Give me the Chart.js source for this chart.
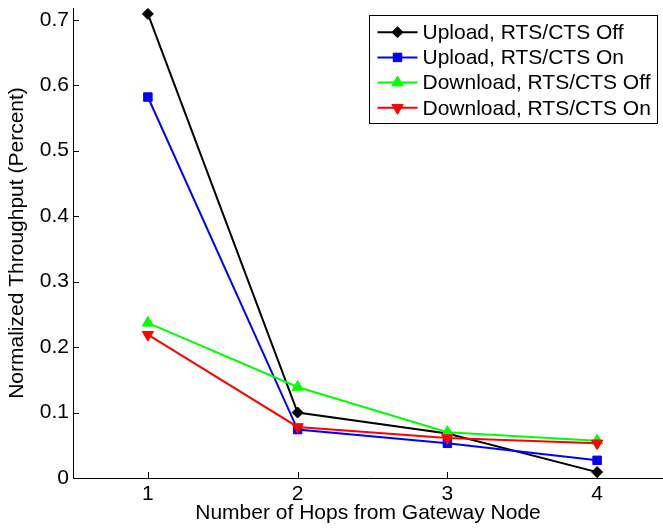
<!DOCTYPE html>
<html>
<head>
<meta charset="utf-8">
<script src="https://cdn.jsdelivr.net/npm/chart.js@4.4.0/dist/chart.umd.min.js"></script>
<style>
  html, body { margin: 0; padding: 0; background: #fff; }
  canvas { display: block; }
</style>
</head>
<body>
<canvas id="c" width="663" height="532"></canvas>
<script>
// Hop counts and normalized throughput per configuration
const hops = [1, 2, 3, 4];
const uploadOff = [0.709, 0.100, 0.068, 0.009];
const uploadOn = [0.582, 0.074, 0.053, 0.027];
const downloadOff = [0.237, 0.139, 0.070, 0.057];
const downloadOn = [0.219, 0.078, 0.061, 0.053];
const seriesNames = ['Upload, RTS/CTS Off', 'Upload, RTS/CTS On', 'Download, RTS/CTS Off', 'Download, RTS/CTS On'];
const yTicks = [0, 0.1, 0.2, 0.3, 0.4, 0.5, 0.6, 0.7];
const xTitle = 'Number of Hops from Gateway Node';
const yTitle = 'Normalized Throughput (Percent)';

const FONT = "'Liberation Sans', Arial, Helvetica, sans-serif";
const FS = 21;

function toPoints(values) {
  return hops.map((h, i) => ({ x: h, y: values[i] }));
}

function series(label, values, color, style, radius, rotation, order) {
  return {
    label: label,
    data: toPoints(values),
    borderColor: color,
    backgroundColor: color,
    pointBackgroundColor: color,
    pointBorderColor: color,
    borderWidth: 2,
    pointStyle: style,
    pointRadius: radius,
    pointRotation: rotation,
    pointBorderWidth: 1,
    tension: 0,
    clip: false,
    order: order
  };
}

// Tick marks pointing into the plot area, as in classic engineering plots
const innerTicks = {
  id: 'innerTicks',
  afterDatasetsDraw(chart) {
    const { ctx, chartArea, scales } = chart;
    ctx.save();
    ctx.strokeStyle = '#000';
    ctx.lineWidth = 1;
    ctx.beginPath();
    scales.x.ticks.forEach(t => {
      const px = Math.round(scales.x.getPixelForValue(t.value)) + 0.5;
      ctx.moveTo(px, chartArea.bottom);
      ctx.lineTo(px, chartArea.bottom - 6);
    });
    scales.y.ticks.forEach(t => {
      const py = Math.round(scales.y.getPixelForValue(t.value)) + 0.5;
      ctx.moveTo(chartArea.left, py);
      ctx.lineTo(chartArea.left + 6, py);
    });
    ctx.stroke();
    ctx.restore();
  }
};

// Boxed legend with a line sample and marker per series
const boxLegend = {
  id: 'boxLegend',
  afterDraw(chart) {
    const { ctx, chartArea } = chart;
    const right = chartArea.right - 5.5;
    const left = right - 288;
    const top = chartArea.top + 7.5;
    const rowH = 25.2;
    const bottom = top + 108;
    ctx.save();
    ctx.fillStyle = '#fff';
    ctx.fillRect(left, top, right - left, bottom - top);
    ctx.strokeStyle = '#000';
    ctx.lineWidth = 1;
    ctx.strokeRect(left, top, right - left, bottom - top);
    ctx.font = FS + 'px ' + FONT;
    ctx.textBaseline = 'middle';
    ctx.textAlign = 'left';
    chart.data.datasets.forEach((ds, i) => {
      const y = top + 16.7 + i * rowH;
      ctx.strokeStyle = ds.borderColor;
      ctx.lineWidth = 2;
      ctx.beginPath();
      ctx.moveTo(left + 8, y);
      ctx.lineTo(left + 48, y);
      ctx.stroke();
      ctx.fillStyle = ds.backgroundColor;
      ctx.lineWidth = 1;
      Chart.helpers.drawPoint(ctx, {
        pointStyle: ds.pointStyle,
        radius: ds.pointRadius,
        rotation: ds.pointRotation,
        borderWidth: 1
      }, left + 28, y);
      ctx.fillStyle = '#000';
      ctx.fillText(ds.label, left + 53, y + 1);
    });
    ctx.restore();
  }
};

new Chart(document.getElementById('c'), {
  type: 'line',
  data: {
    datasets: [
      series(seriesNames[0], uploadOff, '#000000', 'rectRot', 5.5, 0, 3),
      series(seriesNames[1], uploadOn, '#0000ff', 'rect', 6, 0, 2),
      series(seriesNames[2], downloadOff, '#00ff00', 'triangle', 6.5, 0, 1),
      series(seriesNames[3], downloadOn, '#ff0000', 'triangle', 6.5, 180, 0)
    ]
  },
  options: {
    responsive: false,
    animation: false,
    layout: { autoPadding: false, padding: { top: 8, left: 0, right: 0, bottom: 0 } },
    plugins: {
      legend: { display: false },
      tooltip: { enabled: false }
    },
    scales: {
      x: {
        type: 'linear',
        min: 0.5,
        max: 4.44,
        grid: { display: false, drawTicks: false },
        border: { display: true, color: '#000', width: 1 },
        ticks: {
          color: '#000',
          padding: 4,
          font: { family: FONT, size: FS },
          callback: v => String(v)
        },
        title: {
          display: true,
          text: xTitle,
          color: '#000',
          font: { family: FONT, size: FS },
          padding: { top: 0, bottom: 6 }
        },
        afterBuildTicks(scale) { scale.ticks = hops.map(v => ({ value: v })); },
        afterFit(scale) {
          scale.height = 54;
          scale.paddingLeft = 0;
          scale.paddingRight = 0;
        }
      },
      y: {
        type: 'linear',
        min: 0,
        max: 0.718,
        grid: { display: false, drawTicks: false },
        border: { display: true, color: '#000', width: 1 },
        ticks: {
          color: '#000',
          padding: 4,
          font: { family: FONT, size: FS },
          callback: v => String(v)
        },
        title: {
          display: true,
          text: yTitle,
          color: '#000',
          font: { family: FONT, size: FS },
          padding: { top: 5, bottom: 0 }
        },
        afterBuildTicks(scale) { scale.ticks = yTicks.map(v => ({ value: v })); },
        afterFit(scale) {
          scale.width = 73;
          scale.paddingTop = 0;
          scale.paddingBottom = 0;
        }
      }
    }
  },
  plugins: [innerTicks, boxLegend]
});
</script>
</body>
</html>
